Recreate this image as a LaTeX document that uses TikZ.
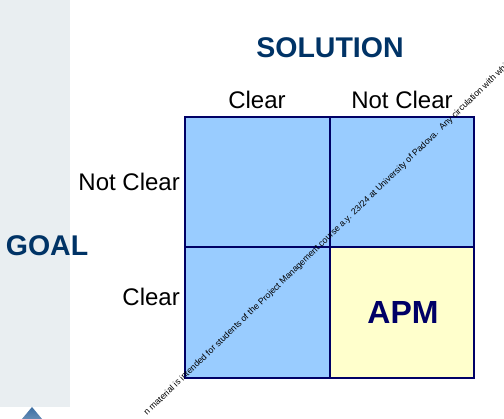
\documentclass[tikz,border=0pt]{standalone}
\usepackage{fontspec}
\setmainfont{Liberation Sans}
\definecolor{stripgrey}{HTML}{E9EEF1}
\definecolor{cellblue}{HTML}{99CCFF}
\definecolor{cellyellow}{HTML}{FFFFCC}
\definecolor{gridnavy}{HTML}{000066}
\definecolor{titleblue}{HTML}{003366}
\definecolor{triblue}{HTML}{3D6FA3}
\tikzset{
  cell/.style={draw=gridnavy, line width=2.6pt},
  title/.style={font=\bfseries\fontsize{28.5}{30}\selectfont, text=titleblue, inner sep=0pt},
  lab/.style={font=\fontsize{24}{26}\selectfont, text=black, inner sep=0pt},
  wmtext/.style={font=\fontsize{8.8}{9}\selectfont, text=black, inner sep=0pt},
}
\begin{document}
\begin{tikzpicture}[x=1pt,y=-1pt]
\useasboundingbox (0,0) rectangle (504,419);
\clip (0,0) rectangle (504,419);
% left strip
\fill[stripgrey] (0,0) rectangle (70,407);
\shade[top color=triblue, bottom color=triblue!70!white] (32,407) -- (17,425) -- (47,425) -- cycle;
% cells
\path[cell, fill=cellblue] (185,117) rectangle (330,247);
\path[cell, fill=cellblue] (330,117) rectangle (474,247);
\path[cell, fill=cellblue] (185,247) rectangle (330,378);
\path[cell, fill=cellyellow] (330,247) rectangle (474,378);
\node[font=\bfseries\fontsize{32}{34}\selectfont, text=gridnavy, inner sep=0pt] (apm) at (403,312) {APM};
% titles
\node[title] (sol) at (330,48) {SOLUTION};
\node[title] (goal) at (47,246) {GOAL};
\node[lab] (cc) at (257,100) {Clear};
\node[lab] (cn) at (402,100) {Not Clear};
\node[lab, anchor=east] (rn) at (180,182) {Not Clear};
\node[lab, anchor=east] (rc) at (180,297) {Clear};
% watermark
\node[wmtext, rotate=44] (wm) at (326,240) {n material is intended for students of the Project Management course a.y. 23/24 at University of Padova.\ \ Any circulation with whi};
\end{tikzpicture}
\end{document}
